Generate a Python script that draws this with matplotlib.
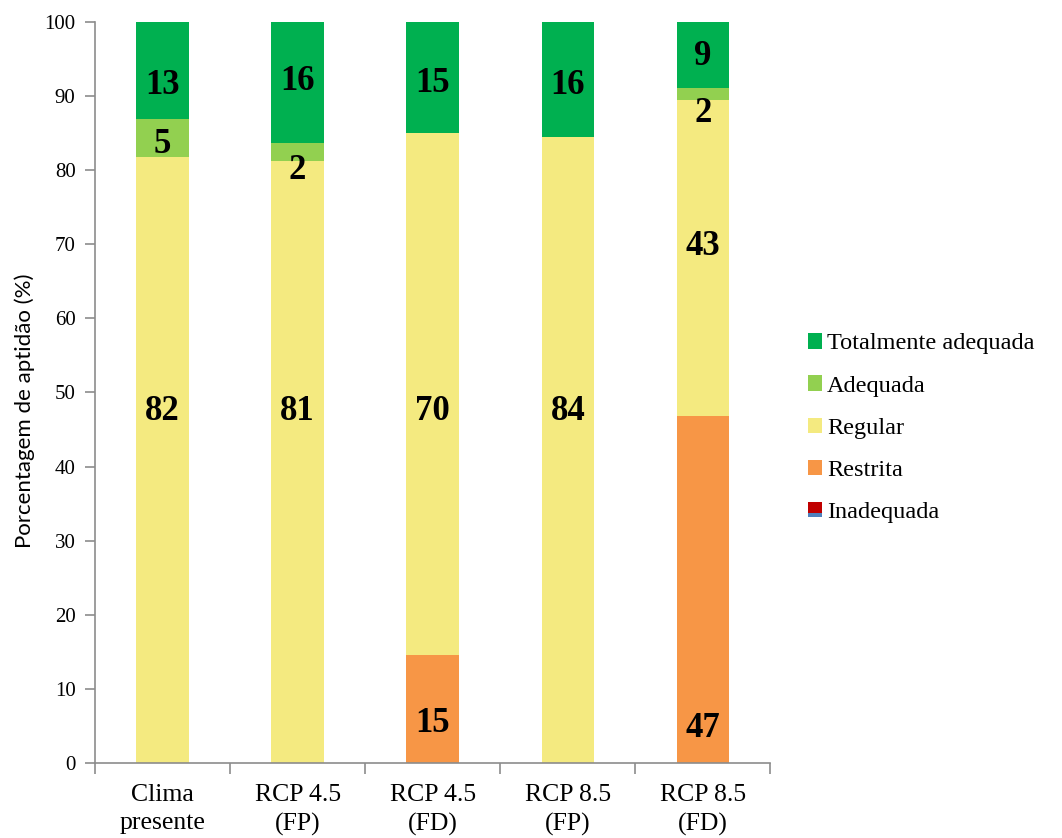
import matplotlib
matplotlib.use("Agg")
import matplotlib.pyplot as plt
from matplotlib.patches import Patch, Rectangle
from matplotlib.legend_handler import HandlerBase
import numpy as np

plt.rcParams['font.family'] = ['Liberation Serif', 'DejaVu Serif']

categories = ["Clima\npresente", "RCP 4.5\n(FP)", "RCP 4.5\n(FD)", "RCP 8.5\n(FP)", "RCP 8.5\n(FD)"]
inadequada = [0.0, 0.0, 0.0, 0.0, 0.0]
restrita = [0.0, 0.0, 14.6, 0.0, 46.8]
regular = [81.8, 81.2, 70.4, 84.4, 42.6]
adequada = [5.1, 2.4, 0.0, 0.0, 1.6]
totalmente = [13.1, 16.4, 15.0, 15.6, 9.0]

series_names = ["Inadequada", "Restrita", "Regular", "Adequada", "Totalmente adequada"]
series_vals = [inadequada, restrita, regular, adequada, totalmente]
colors = ["#C00000", "#F79646", "#F4EA80", "#92D050", "#00B050"]

# vertical placement of the value labels (axis units), per series
label_y = {
    "Inadequada": [None] * 5,
    "Restrita": [None, None, 5.3, None, 4.6],
    "Regular": [47.4, 47.4, 47.4, 47.4, 69.7],
    "Adequada": [83.5, 79.9, None, None, 87.6],
    "Totalmente adequada": [91.4, 91.9, 91.7, 91.4, 95.3],
}

fig = plt.figure(figsize=(10.62, 8.38), dpi=100)
ax = fig.add_axes([0.0895, 0.0895, 0.636, 0.8845])

x = np.arange(len(categories))
bottom = np.zeros(len(categories))
bw = 0.39
for name, vals, c in zip(series_names, series_vals, colors):
    vals = np.array(vals)
    ax.bar(x, vals, bw, bottom=bottom, color=c, label=name, linewidth=0)
    for xi, v, yl in zip(x, vals, label_y[name]):
        if v >= 1 and yl is not None:
            ax.text(xi, yl, f"{v:.0f}", ha="center", va="center",
                    fontsize=25, fontweight="bold", color="black")
    bottom += vals

ax.set_xlim(-0.5, len(categories) - 0.5)
ax.set_ylim(0, 100)
ax.set_yticks(np.arange(0, 101, 10))
ax.tick_params(axis="y", labelsize=15, colors="#8C8C8C", labelcolor="black",
               length=7, width=1.2, direction="out", pad=7)
ax.set_xticks(x)
ax.set_xticklabels(categories, fontsize=18.5, linespacing=1.38)
ax.tick_params(axis="x", length=0, pad=15)
ax.set_xticks(np.arange(-0.5, len(categories), 1.0), minor=True)
ax.tick_params(axis="x", which="minor", length=8, width=1.2, color="#8C8C8C", direction="out")

for s in ["top", "right"]:
    ax.spines[s].set_visible(False)
for s in ["left", "bottom"]:
    ax.spines[s].set_color("#8C8C8C")
    ax.spines[s].set_linewidth(1.2)

ax.set_ylabel("Porcentagem de aptidão (%)", fontsize=16, family=["Lato", "DejaVu Sans"])
ax.yaxis.set_label_coords(-0.089, 0.475)


class SplitSquare(HandlerBase):
    def create_artists(self, legend, orig_handle, xdescent, ydescent, width,
                       height, fontsize, trans):
        top = Rectangle((-xdescent, -ydescent + height * 0.3), width, height * 0.7,
                        facecolor="#C00000", edgecolor="none", transform=trans)
        low = Rectangle((-xdescent, -ydescent), width, height * 0.3,
                        facecolor="#4F81BD", edgecolor="none", transform=trans)
        return [top, low]


handles = [Patch(facecolor=c, edgecolor="none") for c in colors]
order = [4, 3, 2, 1, 0]
inad_handle = handles[0]
leg = fig.legend([handles[i] for i in order], [series_names[i] for i in order],
                 loc="center left", bbox_to_anchor=(0.740, 0.489), frameon=False,
                 fontsize=17.5, handlelength=0.6, handleheight=0.6,
                 handletextpad=0.2, labelspacing=0.86,
                 handler_map={inad_handle: SplitSquare()})

fig.savefig("out.png", dpi=100)
